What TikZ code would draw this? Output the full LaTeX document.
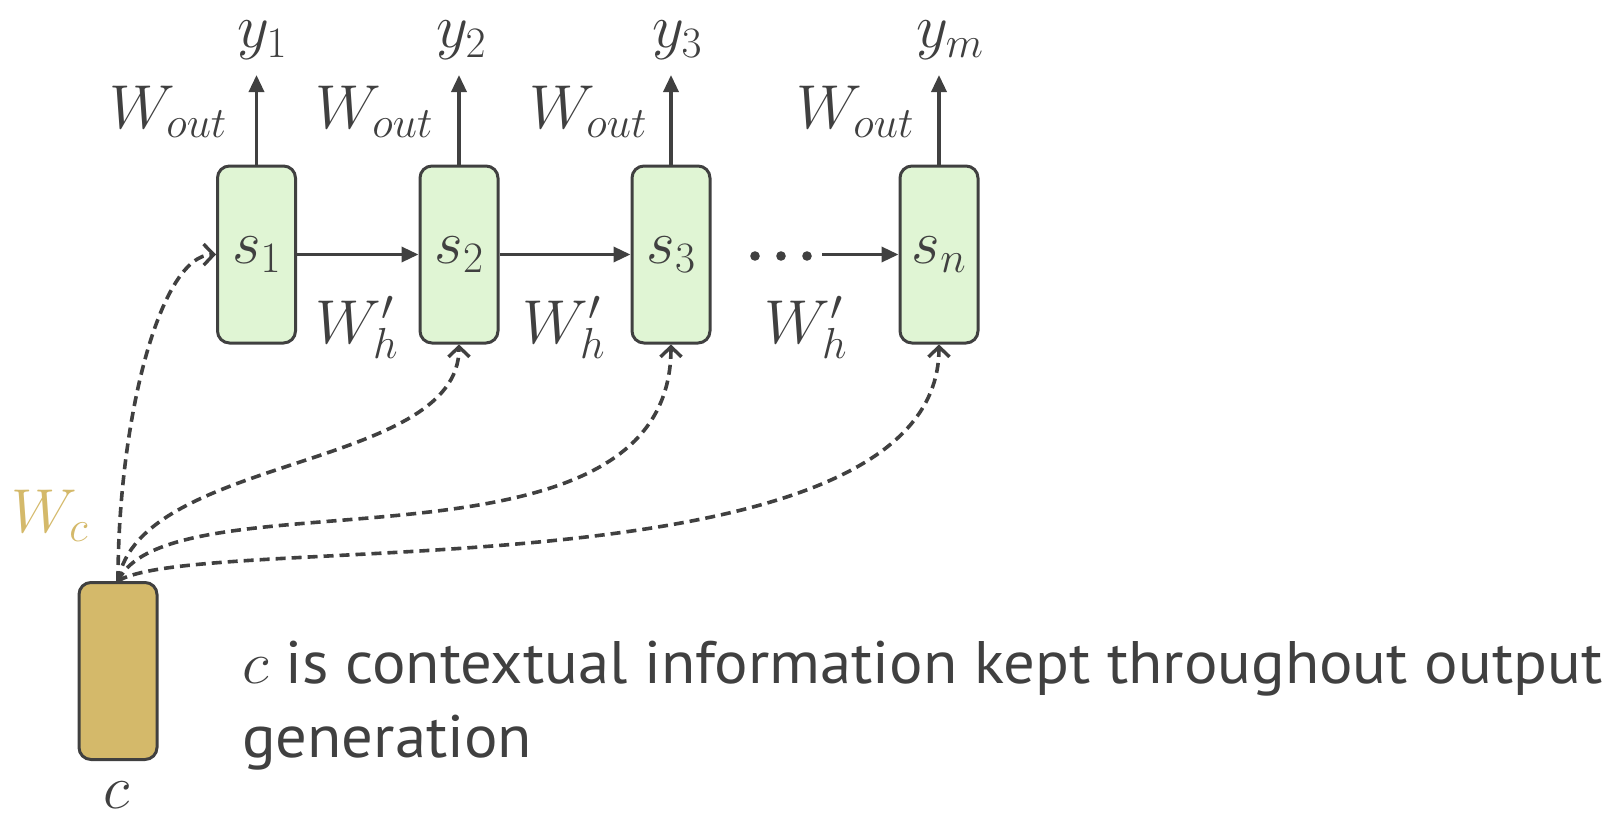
\RequirePackage{fix-cm}
\documentclass[tikz,border=0pt]{standalone}
\usepackage{fontspec}
\setsansfont{PT Sans}
\usetikzlibrary{arrows.meta}
\definecolor{ink}{HTML}{404040}
\definecolor{cellgreen}{HTML}{E0F5D4}
\definecolor{ctxgold}{HTML}{D4B96A}
\tikzset{
  cell/.style={draw=ink, line width=3pt, fill=cellgreen, rounded corners=12pt,
    minimum width=78pt, minimum height=177pt, inner sep=0pt, text=ink,
    font=\fontsize{62}{74}\selectfont},
  ctxbox/.style={cell, fill=ctxgold},
  lbl/.style={text=ink, inner sep=0pt, font=\fontsize{62}{74}\selectfont},
  flow/.style={draw=ink, line width=3.4pt, -{Triangle[length=17pt,width=15pt]}},
  feed/.style={draw=ink, line width=3.6pt, dash pattern=on 10pt off 6pt,
    -{Straight Barb[length=10pt,width=21pt,line width=3.4pt]}},
}
\begin{document}
\begin{tikzpicture}[x=1pt,y=-1pt]
\useasboundingbox (0,0) rectangle (1614,816);

% decoder states
\node[cell] (s1) at (256.5,254.5) {$s_1$};
\node[cell] (s2) at (459,254.5) {$s_2$};
\node[cell] (s3) at (671,254.5) {$s_3$};
\node[cell] (sn) at (939,254.5) {$s_n$};

% context vector
\node[ctxbox] (c) at (118,671) {};
\node[lbl, anchor=base] (clbl) at (117,808) {$c$};
\node[lbl, anchor=base, text=ctxgold] (wc) at (50,532) {$W_c$};

% outputs
\coordinate (o1) at (256.5,75);
\coordinate (o2) at (459,75);
\coordinate (o3) at (671,75);
\coordinate (on) at (939,75);
\draw[flow] (s1.north) -- (o1);
\draw[flow] (s2.north) -- (o2);
\draw[flow] (s3.north) -- (o3);
\draw[flow] (sn.north) -- (on);
\node[lbl, anchor=base] (y1) at (262,48) {$y_1$};
\node[lbl, anchor=base] (y2) at (461,48) {$y_2$};
\node[lbl, anchor=base] (y3) at (677,48) {$y_3$};
\node[lbl, anchor=base] (ym) at (950,48) {$y_m$};
\node[lbl, anchor=base] (wo1) at (168,128) {$W_{out}$};
\node[lbl, anchor=base] (wo2) at (374,128) {$W_{out}$};
\node[lbl, anchor=base] (wo3) at (588,128) {$W_{out}$};
\node[lbl, anchor=base] (wo4) at (855,128) {$W_{out}$};

% recurrence
\draw[flow] (s1.east) -- (s2.west);
\draw[flow] (s2.east) -- (s3.west);
\foreach \x in {755,781,807} \fill[ink] (\x,256) circle (4.8);
\coordinate (dotsend) at (822,254.5);
\draw[flow] (dotsend) -- (sn.west);
\node[lbl, anchor=base] (wh1) at (357,343) {$W'_h$};
\node[lbl, anchor=base] (wh2) at (564,343) {$W'_h$};
\node[lbl, anchor=base] (wh3) at (806,343) {$W'_h$};

% context feeds
\draw[feed] (c.north) .. controls (118,420) and (160,255) .. (s1.west);
\draw[feed] (c.north) .. controls (140,455) and (459,470) .. (s2.south);
\draw[feed] (c.north) .. controls (170,470) and (671,590) .. (s3.south);
\draw[feed] (c.north) .. controls (200,530) and (939,600) .. (sn.south);

% caption
\node[text=ink, inner sep=0pt, anchor=base west,
  font=\sffamily\fontsize{60}{74}\selectfont] (note) at (242,683)
  {\resizebox{1360pt}{\height}{\begin{tabular}[t]{@{}l@{}}$c$ is contextual information kept throughout output\\generation\end{tabular}}};
\end{tikzpicture}
\end{document}
